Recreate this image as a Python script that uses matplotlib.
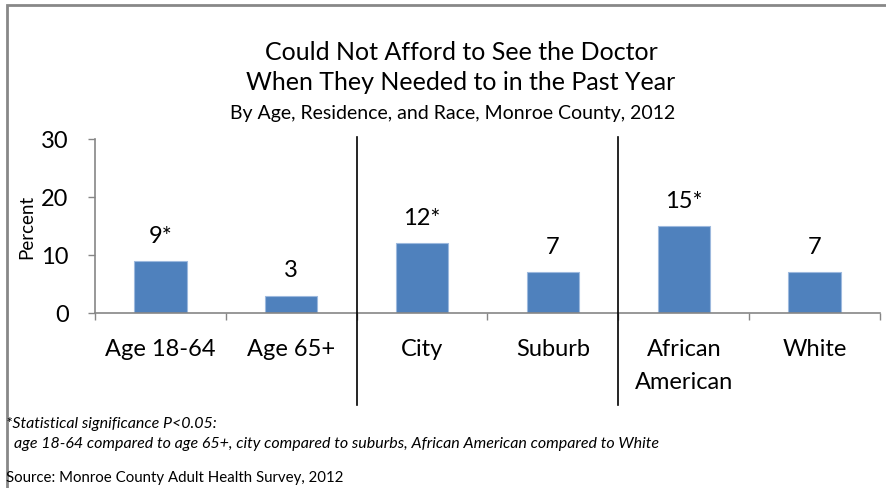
import matplotlib.pyplot as plt
from matplotlib.patches import Rectangle

plt.rcParams['font.family'] = ['Lato', 'DejaVu Sans']

# Data
kategori = ['Age 18-64', 'Age 65+', 'City', 'Suburb', 'African\nAmerican', 'White']
persen = [9, 3, 12, 7, 15, 7]
label_nilai = ['9*', '3', '12*', '7', '15*', '7']
pemisah = [1.5, 3.5]   # batas antar kelompok (usia | tempat tinggal | ras)

fig = plt.figure(figsize=(8.87, 4.89), dpi=100)
ax = fig.add_axes([95/887, 1 - 314/489, 785/887, 174/489])

x = list(range(len(kategori)))
ax.bar(x, persen, width=0.4, color='#4F81BD', edgecolor='#9DB9DE', linewidth=0.8, zorder=2)

for xi, v, lab in zip(x, persen, label_nilai):
    ax.annotate(lab, (xi, v), xytext=(0, 11), textcoords='offset points',
                ha='center', va='bottom', fontsize=17)

ax.set_xlim(-0.5, len(kategori) - 0.5)
ax.set_ylim(0, 30)
ax.set_yticks([0, 10, 20, 30])
ax.set_xticks(x)
ax.set_xticklabels(kategori, fontsize=17, linespacing=1.7)
ax.set_xticks([i - 0.5 for i in range(len(kategori) + 1)], minor=True)
ax.tick_params(axis='x', which='major', length=0, pad=18)
ax.tick_params(axis='x', which='minor', length=5, width=1, color='#868686', direction='out')
ax.tick_params(axis='y', length=5, width=1, color='#868686', labelsize=17, pad=14)

for s in ['top', 'right']:
    ax.spines[s].set_visible(False)
for s in ['left', 'bottom']:
    ax.spines[s].set_color('#868686')
    ax.spines[s].set_linewidth(1.2)

ax.set_ylabel('Percent', fontsize=13.5)
ax.yaxis.set_label_coords((35 - 95) / 785, 0.5)

# Garis pemisah kelompok
for p in pemisah:
    ax.plot([p, p], [30.3, -15.9], color='black', linewidth=1.2, clip_on=False, zorder=3)

# Judul
fig.text(461/887, 1 - 52/489, 'Could Not Afford to See the Doctor', ha='center', va='center', fontsize=18)
fig.text(461/887, 1 - 83/489, 'When They Needed to in the Past Year', ha='center', va='center', fontsize=18)
fig.text(453/887, 1 - 114/489, 'By Age, Residence, and Race, Monroe County, 2012', ha='center', va='center', fontsize=14)

# Catatan kaki
fig.text(6/887, 1 - 424/489, '*Statistical significance P<0.05:', ha='left', va='center', fontsize=11.5, style='italic')
fig.text(14/887, 1 - 444/489, 'age 18-64 compared to age 65+, city compared to suburbs, African American compared to White',
         ha='left', va='center', fontsize=11.5, style='italic')
fig.text(6/887, 1 - 478/489, 'Source: Monroe County Adult Health Survey, 2012', ha='left', va='center', fontsize=10.8)

# Bingkai
fig.patches.append(Rectangle((7/887, -0.1), 1.1, 1 - 6/489 + 0.1, transform=fig.transFigure,
                             fill=False, edgecolor='#888888', linewidth=2))

fig.savefig('out.png', dpi=100)
